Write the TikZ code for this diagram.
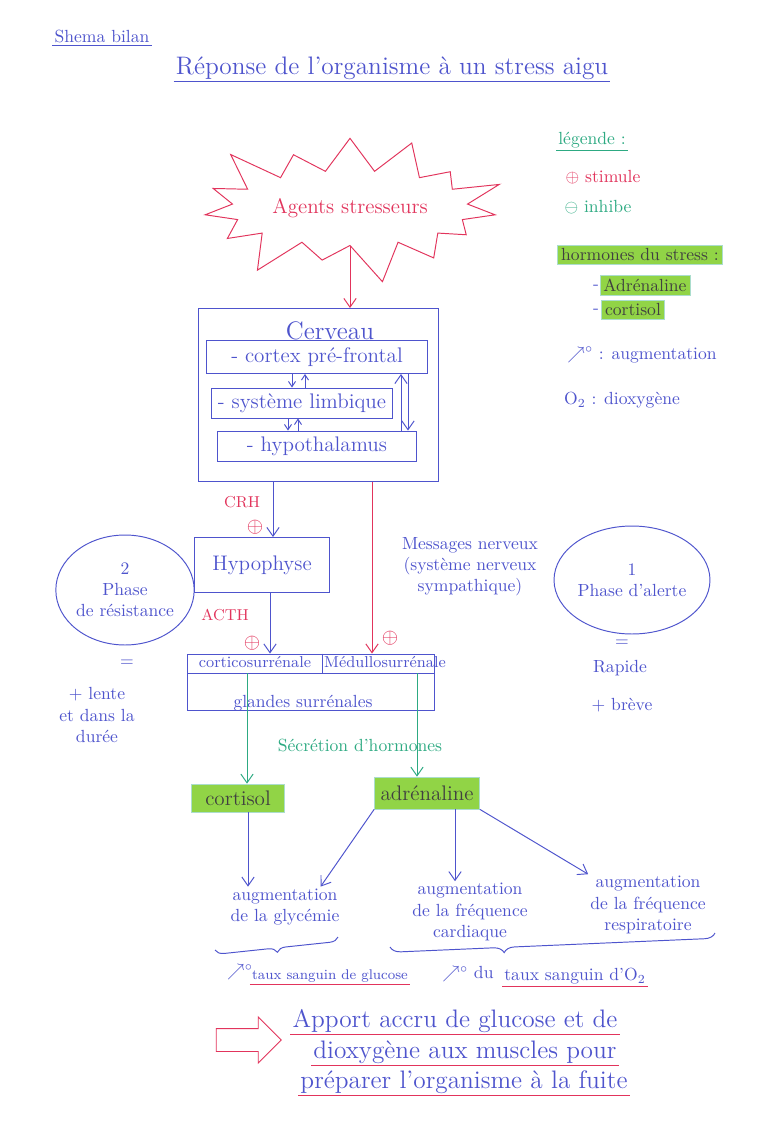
\documentclass[tikz,border=0pt]{standalone}
\usepackage{fontspec}
\usetikzlibrary{arrows.meta,shapes.symbols,shapes.arrows,shapes.geometric,decorations.pathreplacing}
\definecolor{ink}{RGB}{78,84,205}
\definecolor{redink}{RGB}{226,52,92}
\definecolor{greenink}{RGB}{45,170,130}
\definecolor{marker}{RGB}{145,212,70}
\tikzset{
  box/.style={draw=ink,rectangle,inner sep=2pt},
  txt/.style={text=ink,align=center,inner sep=1pt},
  rtxt/.style={text=redink,align=center,inner sep=1pt},
  gtxt/.style={text=greenink,align=center,inner sep=1pt},
  surligne/.style={fill=marker,draw=greenink!40,thin,text=black!75,inner sep=2pt},
  plus/.style={text=redink,inner sep=0pt,font=\large}
}
\begin{document}
\begin{tikzpicture}[x=0.02cm,y=-0.02cm,line width=0.55pt,>={Straight Barb[length=5pt,width=7pt]}]
\useasboundingbox[fill=white] (0,0) rectangle (772,1128);

\node[txt] (shema) at (102,37) {Shema bilan};
\draw[ink] (shema.south west) -- (shema.south east);
\node[txt,font=\Large] (titre) at (392,68) {Réponse de l'organisme à un stress aigu};
\draw[ink] (titre.south west) -- (titre.south east);

\node[starburst,draw=redink,starburst points=15,starburst point height=0.9cm,minimum width=5.4cm,minimum height=3.3cm,text=redink,font=\large] (stress) at (350,208) {Agents stresseurs};

\node[box,minimum width=4.8cm,minimum height=3.46cm] (cerveau) at (318,395) {};
\node[txt,font=\Large] (cerveaulbl) at (330,331) {Cerveau};
\node[box,minimum width=4.42cm,minimum height=0.66cm,font=\large,text=ink] (cortex) at (317,357) {- cortex pré-frontal};
\node[box,minimum width=3.62cm,minimum height=0.6cm,font=\large,text=ink] (limbique) at (302,403) {- système limbique};
\node[box,minimum width=3.98cm,minimum height=0.6cm,font=\large,text=ink] (hypothal) at (317,446) {- hypothalamus};
\draw[->,redink] (stress.south) -- (stress.south |- cerveau.north);

\begin{scope}[>={Straight Barb[length=3pt,width=4pt]}]
\draw[->,ink] (cortex.south -| 292,0) -- (limbique.north -| 292,0);
\draw[<-,ink] (cortex.south -| 305,0) -- (limbique.north -| 305,0);
\draw[->,ink] (limbique.south -| 288,0) -- (hypothal.north -| 288,0);
\draw[<-,ink] (limbique.south -| 298,0) -- (hypothal.north -| 298,0);
\end{scope}
\draw[<-,ink] (cortex.south -| 401,0) -- (hypothal.north -| 401,0);
\draw[->,ink] (cortex.south -| 408,0) -- (hypothal.north -| 408,0);

\node[box,minimum width=2.7cm,minimum height=1.1cm,font=\large,text=ink] (hypo) at (262,565) {Hypophyse};
\draw[->,ink] (cerveau.south -| 273,0) -- (hypo.north -| 273,0);
\node[rtxt,font=\small] (crh) at (242,502) {CRH};
\node[plus] (plus1) at (255,527) {$\oplus$};

\node[box,minimum width=4.94cm,minimum height=1.12cm] (glandes) at (311,682) {};
\draw[ink] (glandes.west |- 0,673) -- (glandes.east |- 0,673);
\draw[ink] (glandes.north -| 322,0) -- (322,673);
\node[txt,font=\small] (cortico) at (255,662) {corticosurrénale};
\node[txt,font=\small] (medullo) at (385,662) {Médullosurrénale};
\node[txt] (glandeslbl) at (303,703) {glandes surrénales};

\node[rtxt,font=\small] (acth) at (225,615) {ACTH};
\node[plus] (plus2) at (252,643) {$\oplus$};
\draw[->,ink] (hypo.south -| 270,0) -- (glandes.north -| 270,0);
\draw[->,redink] (cerveau.south -| 372,0) -- (glandes.north -| 372,0);
\node[plus] (plus3) at (390,638) {$\oplus$};

\node[txt] (messages) at (470,567) {Messages nerveux\\(système nerveux\\sympathique)};

\node[ellipse,draw=ink,minimum width=2.48cm,minimum height=2.2cm,txt,inner sep=0pt] (phase2) at (125,590) {2\\Phase\\de résistance};
\node[txt] (egal2) at (127,663) {=};
\node[txt] (lente) at (97,715) {+ lente\\et dans la\\durée};
\node[ellipse,draw=ink,minimum width=3.12cm,minimum height=2.16cm,txt,inner sep=0pt] (phase1) at (632,580) {1\\Phase d'alerte};
\node[txt] (egal1) at (622,643) {=};
\node[txt] (rapide) at (620,668) {Rapide};
\node[txt] (breve) at (622,705) {+ brève};

\node[surligne,minimum width=1.86cm,minimum height=0.56cm,font=\large] (cortisol) at (238,798) {cortisol};
\node[surligne,minimum width=2.1cm,minimum height=0.64cm,font=\large] (adre) at (427,793) {adrénaline};
\coordinate (srcC) at (247,673);
\coordinate (srcM) at (417,673);
\draw[->,greenink] (srcC) -- (srcC |- cortisol.north);
\draw[->,greenink] (srcM) -- (srcM |- adre.north);
\node[gtxt] (secretion) at (360,745) {Sécrétion d'hormones};

\node[txt] (glyc) at (285,907) {augmentation\\de la glycémie};
\node[txt] (cardia) at (470,912) {augmentation\\de la fréquence\\cardiaque};
\node[txt] (respi) at (648,905) {augmentation\\de la fréquence\\respiratoire};
\draw[->,ink] (cortisol.south -| 248,0) -- (glyc.north -| 248,0);
\draw[->,ink] (adre.south west) -- ([xshift=-12pt]glyc.north east);
\draw[->,ink] (adre.south -| 455,0) -- (cardia.north -| 455,0);
\draw[->,ink] (adre.south east) -- (respi.north west);

\draw[ink,decorate,decoration={brace,mirror,amplitude=5pt}] (215,950) -- (338,937);
\draw[ink,decorate,decoration={brace,mirror,amplitude=6pt,aspect=0.35}] (390,947) -- (715,933);

\node[txt,font=\footnotesize] (tauxglu) at (330,976) {taux sanguin de glucose};
\node[txt] (hausse1) at (240,972) {$\nearrow^{\circ}$};
\draw[redink] (tauxglu.south west) -- (tauxglu.south east);
\node[txt] (tauxo2) at (575,976) {taux sanguin d'O$_2$};
\node[txt] (hausse2) at (468,974) {$\nearrow^{\circ}$ du};
\draw[redink] (tauxo2.south west) -- (tauxo2.south east);

\node[single arrow,draw=redink,minimum height=1.3cm,inner ysep=0.22cm,single arrow head extend=0.23cm] (fleche) at (243,1040) {};
\node[txt,font=\Large] (ligne1) at (455,1021) {Apport accru de glucose et de};
\node[txt,font=\Large] (ligne2) at (465,1052) {dioxygène aux muscles pour};
\node[txt,font=\Large] (ligne3) at (464,1082) {préparer l'organisme à la fuite};
\draw[redink] (ligne1.south west) -- (ligne1.south east);
\draw[redink] (ligne2.south west) -- (ligne2.south east);
\draw[redink] (ligne3.south west) -- (ligne3.south east);

\node[gtxt] (legende) at (592,140) {légende :};
\draw[greenink] (legende.south west) -- (legende.south east);
\node[rtxt] (stim) at (603,177) {$\oplus$ stimule};
\node[gtxt] (inhib) at (598,207) {$\ominus$ inhibe};
\node[surligne] (hormones) at (640,255) {hormones du stress :};
\node[surligne] (legadre) at (645,285) {Adrénaline};
\node[txt] (tiret1) at (596,287) {-};
\node[surligne] (legcort) at (633,310) {cortisol};
\node[txt] (tiret2) at (596,311) {-};
\node[txt] (augm) at (642,355) {$\nearrow^{\circ}$ : augmentation};
\node[txt] (dioxy) at (622,400) {O$_2$ : dioxygène};
\end{tikzpicture}
\end{document}
